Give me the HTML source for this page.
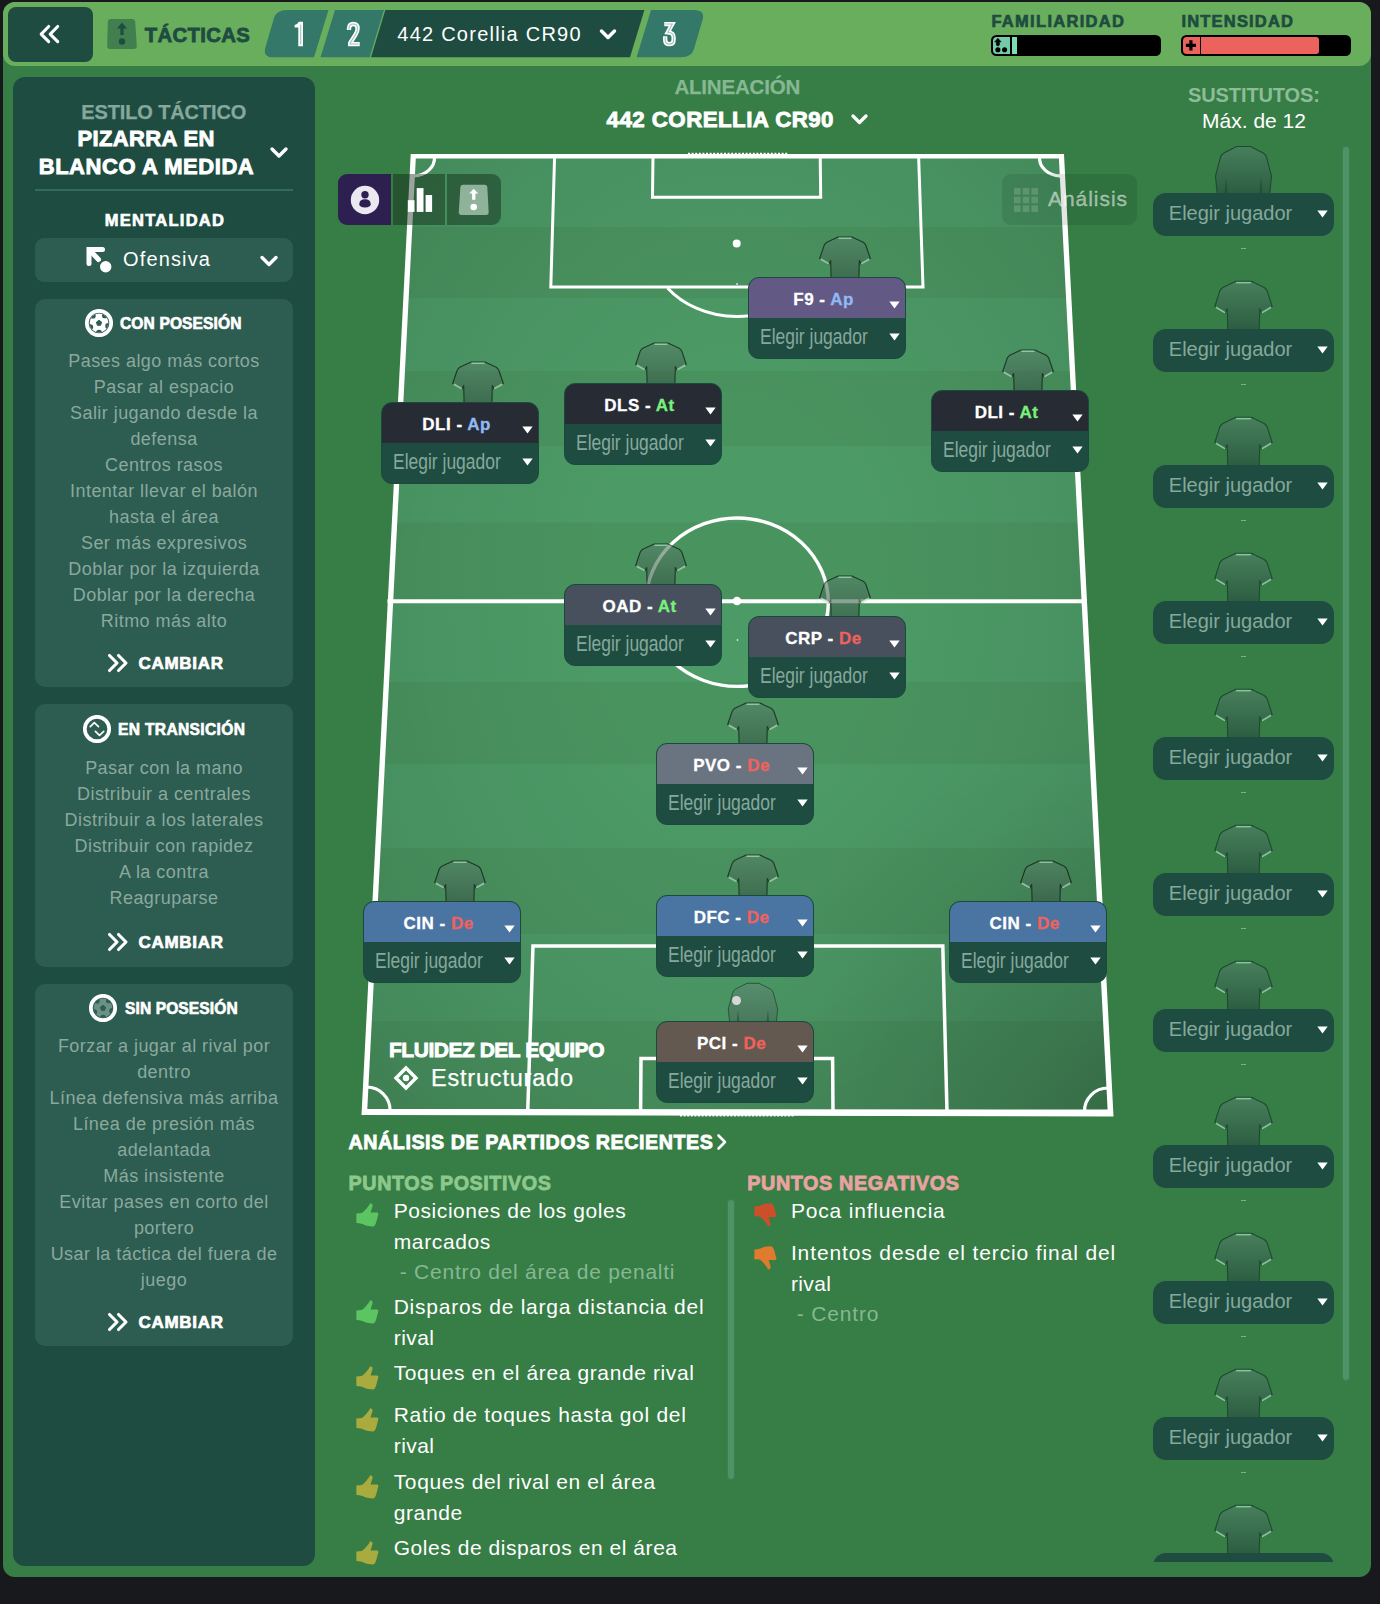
<!DOCTYPE html>
<html lang="es"><head><meta charset="utf-8"><title>Tácticas</title>
<style>
*{box-sizing:border-box;margin:0;padding:0}
html,body{width:1380px;height:1604px;background:#18191d;overflow:hidden;font-family:"Liberation Sans",sans-serif;}
.abs{position:absolute}
.t{position:absolute;white-space:nowrap;line-height:1}
.hv{-webkit-text-stroke:.04em currentColor}
#wrap{position:absolute;left:3px;top:2px;width:1368px;height:1575px;background:#377d46;border-radius:12px;overflow:hidden}
#hdr{position:absolute;left:3px;top:2px;width:1368px;height:64px;background:#69ae5d;border-radius:12px}
#back{position:absolute;left:8px;top:7px;width:85px;height:54.5px;background:#1e4c40;border-radius:8px}
#lp{position:absolute;left:13px;top:77px;width:302px;height:1489px;background:#1e4c40;border-radius:12px}
.card{position:absolute;left:35px;width:258px;background:#2d5c50;border-radius:10px}
.ln{position:absolute;left:25px;width:278px;text-align:center;font-size:18px;line-height:26px;color:#8aa99e;letter-spacing:.45px}
.pos{position:absolute;width:158px;height:82px;border-radius:11px;background:#1e4c40;border:1px solid #1b493d;overflow:hidden}
.pos .h{position:absolute;left:0;top:0;width:100%;height:40px}
.sub{position:absolute;width:181px;height:43px;border-radius:13px;background:#1e4c40}
.dg{position:absolute;white-space:nowrap;line-height:1;font-size:34px;font-weight:700;color:#fff;transform:scaleX(.68);transform-origin:0 0}
</style></head><body>
<div id="wrap"></div>
<div id="hdr"></div>
<div id="back"></div>

<svg class="abs" style="left:0;top:0" width="100" height="70" viewBox="0 0 100 70">
<g fill="none" stroke="#fff" stroke-width="3.1" stroke-linecap="round" stroke-linejoin="round">
<path d="M48.7 26.5 L41.2 34.1 L48.7 41.7"/><path d="M57.7 26.5 L50.2 34.1 L57.7 41.7"/>
</g>
</svg>
<svg class="abs" style="left:106px;top:18px" width="32" height="32" viewBox="0 0 32 32">
<path d="M4.5 1 H26.5 Q29 1 29.2 3.5 L30.8 28 Q31 31 28 31 H4 Q1 31 1.2 28 L1.8 3.5 Q2 1 4.5 1Z" fill="#427f4f"/>
<path d="M16 4.5 L21 10.5 H17.6 V17 H14.4 V10.5 H11Z" fill="#1e4c40"/><circle cx="16" cy="23.5" r="3.2" fill="#1e4c40"/>
</svg>
<div class="t hv" style="left:144.8px;top:25.3px;font-size:20.3px;font-weight:700;letter-spacing:0.34px;color:#1e4c40;">TÁCTICAS</div>
<svg class="abs" style="left:0;top:0" width="1380" height="70" viewBox="0 0 1380 70">
<path d="M287 10 H328.5 L314 57.3 H273 Q262.5 57.3 265.5 47 L274 18 Q276.5 10 287 10Z" fill="#34786a"/>
<path d="M335 10 H384 L369.6 57.3 H320.5Z" fill="#34786a"/>
<path d="M385.3 10 H644.4 L630 57.3 H371Z" fill="#1e4c40"/>
<path d="M651 10 H694 Q705.5 10 702.5 20 L694 49 Q691.5 57.3 681 57.3 H636.6Z" fill="#34786a"/>
<path d="M601.5 31 L608 37.5 L614.5 31" fill="none" stroke="#fff" stroke-width="3.5" stroke-linecap="round" stroke-linejoin="round"/>
</svg>
<svg class="abs" style="left:0;top:0" width="720" height="70" viewBox="0 0 720 70">
<path d="M303 21.8 V46.2 H298.3 V27.4 H294.6 V25.1 Q297.6 24.3 298.8 21.8Z" fill="#fff"/>
<g fill="none" stroke="#fff" stroke-width="4.3" stroke-linejoin="miter">
<path d="M349 30 V28.5 Q349 24 353.3 24 Q357.6 24 357.6 28.6 Q357.6 31.5 355.3 35 L350.2 43 V44.05 H359.7"/>
<path d="M664.3 24.05 H672.3 L667.8 32.3 Q673.6 32.6 673.6 37.2 V40 Q673.6 44.15 669.4 44.15 Q665.2 44.15 665.2 40 V36.3"/>
</g>
<g fill="none" stroke="#34786a" stroke-opacity=".45" stroke-width="1.1" stroke-linejoin="miter">
<path d="M300.7 24.5 V44.5"/>
<path d="M349 30 V28.5 Q349 24 353.3 24 Q357.6 24 357.6 28.6 Q357.6 31.5 355.3 35 L350.2 43 V44.05 H358.5"/>
<path d="M665.5 24.05 H672.3 L667.8 32.3 Q673.6 32.6 673.6 37.2 V40 Q673.6 44.15 669.4 44.15 Q665.2 44.15 665.2 40 V37.3"/>
</g></svg>
<div class="t" style="left:397.3px;top:24.3px;font-size:20px;font-weight:400;letter-spacing:1.24px;color:#fff;">442 Corellia CR90</div>
<div class="t hv" style="left:991.4px;top:12.9px;font-size:16.5px;font-weight:700;letter-spacing:1.3px;color:#1e4c40;">FAMILIARIDAD</div>
<div class="t hv" style="left:1181.5px;top:12.9px;font-size:16.5px;font-weight:700;letter-spacing:1.18px;color:#1e4c40;">INTENSIDAD</div>
<div class="abs" style="left:991px;top:35px;width:170px;height:21px;background:#000;border-radius:5.5px"></div>
<div class="abs" style="left:992.8px;top:36.7px;width:17.1px;height:17.6px;background:#74cba7;border-radius:3.8px 0 0 3.8px"></div>
<div class="abs" style="left:1012px;top:36.7px;width:5.1px;height:17.6px;background:#7ddcb0"></div>
<div class="abs" style="left:1181px;top:35px;width:170px;height:21px;background:#000;border-radius:5.5px"></div>
<div class="abs" style="left:1182.8px;top:36.7px;width:17.1px;height:17.6px;background:#ec635d;border-radius:3.8px 0 0 3.8px"></div>
<div class="abs" style="left:1200.9px;top:36.7px;width:118.3px;height:17.6px;background:#ec635d;border-radius:0 3px 3px 0"></div>
<svg class="abs" style="left:991px;top:35px" width="220" height="21" viewBox="0 0 220 21">
<path d="M6.9 3.2 L10.1 6.9 H8.4 V9.8 Q8.4 10.8 6.9 10.8 Q5.4 10.8 5.4 9.8 V6.9 H3.7Z" fill="#000" stroke="#000" stroke-width=".6" stroke-linejoin="round"/><circle cx="6.9" cy="14.7" r="2.55" fill="#000"/><circle cx="13.6" cy="14.7" r="2.55" fill="#000"/>
<path d="M194.9 10.4 H205 M199.9 5.2 V15.6" stroke="#000" stroke-width="3.2" fill="none"/>
</svg>
<div id="lp"></div>
<div class="t" style="left:81.3px;top:102.1px;font-size:20px;font-weight:700;letter-spacing:-0.13px;color:#86a89c;-webkit-text-stroke:.25px currentColor;">ESTILO TÁCTICO</div>
<div class="t hv" style="left:77.6px;top:128.1px;font-size:22px;font-weight:700;letter-spacing:0.34px;color:#fff;">PIZARRA EN</div>
<div class="t hv" style="left:38.7px;top:155.9px;font-size:22px;font-weight:700;letter-spacing:0.55px;color:#fff;">BLANCO A MEDIDA</div>
<div class="abs" style="left:35px;top:189px;width:258px;height:2px;background:#356b5b"></div>
<div class="t hv" style="left:104.7px;top:212.4px;font-size:16.5px;font-weight:700;letter-spacing:1.27px;color:#fff;">MENTALIDAD</div>
<div class="abs" style="left:35px;top:238px;width:258px;height:44px;background:#2d5c50;border-radius:9px"></div>
<div class="t" style="left:123px;top:248.8px;font-size:20px;font-weight:400;letter-spacing:1.15px;color:#fff;">Ofensiva</div>
<svg class="abs" style="left:0;top:0" width="330" height="300" viewBox="0 0 330 300">
<g fill="none" stroke="#fff" stroke-width="3.4" stroke-linecap="round" stroke-linejoin="round">
<path d="M272 149 L279 156 L286 149"/><path d="M262 257.5 L269 264.5 L276 257.5"/></g>
<g fill="none" stroke="#fff" stroke-width="5" stroke-linecap="round" stroke-linejoin="miter"><path d="M102.5 249.5 H89 V263.5"/><path d="M90 250.5 L98.5 259.5"/></g>
<circle cx="105.7" cy="266.8" r="5.7" fill="#fff"/>
</svg>
<div class="card" style="top:299px;height:388px"></div>
<svg class="abs" style="left:85px;top:309px" width="28" height="28" viewBox="0 0 28 28">
<defs><clipPath id="bcffffff"><circle cx="14" cy="14" r="9.4"/></clipPath></defs>
<circle cx="14" cy="14" r="12.2" fill="none" stroke="#fff" stroke-width="3.7"/>
<circle cx="14" cy="14" r="9.4" fill="#ffffff"/>
<g clip-path="url(#bcffffff)"><circle cx="7.83" cy="6.65" r="2.9" fill="#2d5c50"/><circle cx="19.91" cy="6.44" r="2.9" fill="#2d5c50"/><circle cx="23.13" cy="16.97" r="2.9" fill="#2d5c50"/><circle cx="14" cy="23.6" r="2.9" fill="#2d5c50"/><circle cx="5.3" cy="18.06" r="2.9" fill="#2d5c50"/></g>
<path d="M14 11.3 L16.6 13.2 L15.6 16.3 H12.4 L11.4 13.2Z" fill="#2d5c50" stroke="#2d5c50" stroke-width="1" stroke-linejoin="round"/>
</svg>
<div class="t hv" style="left:120px;top:316.2px;font-size:15.6px;font-weight:700;letter-spacing:0.1px;color:#fff;">CON POSESIÓN</div>
<div class="ln" style="top:347.8px">Pases algo más cortos<br>Pasar al espacio<br>Salir jugando desde la<br>defensa<br>Centros rasos<br>Intentar llevar el balón<br>hasta el área<br>Ser más expresivos<br>Doblar por la izquierda<br>Doblar por la derecha<br>Ritmo más alto</div>
<svg class="abs" style="left:106px;top:652.5px" width="24" height="20" viewBox="0 0 24 20"><g fill="none" stroke="#fff" stroke-width="3.1" stroke-linecap="round" stroke-linejoin="round"><path d="M3.5 2.5 L11 10 L3.5 17.5"/><path d="M12.5 2.5 L20 10 L12.5 17.5"/></g></svg>
<div class="t hv" style="left:138.5px;top:655.1px;font-size:17px;font-weight:700;letter-spacing:0.71px;color:#fff;">CAMBIAR</div>
<div class="card" style="top:704px;height:262.5px"></div>
<svg class="abs" style="left:83px;top:715px" width="28" height="28" viewBox="0 0 28 28">
<circle cx="14" cy="14" r="12.2" fill="none" stroke="#fff" stroke-width="3.7"/>
<g fill="none" stroke="#fff" stroke-width="1.7" stroke-linecap="round" stroke-linejoin="round"><path d="M7.3 11.6 L11.3 7.6 L15.5 11.6"/><path d="M12.4 16.3 L16.5 20.4 L20.7 16.3"/></g>
</svg>
<div class="t hv" style="left:118px;top:722.2px;font-size:15.6px;font-weight:700;letter-spacing:0.33px;color:#fff;">EN TRANSICIÓN</div>
<div class="ln" style="top:754.8px">Pasar con la mano<br>Distribuir a centrales<br>Distribuir a los laterales<br>Distribuir con rapidez<br>A la contra<br>Reagruparse</div>
<svg class="abs" style="left:106px;top:931.5px" width="24" height="20" viewBox="0 0 24 20"><g fill="none" stroke="#fff" stroke-width="3.1" stroke-linecap="round" stroke-linejoin="round"><path d="M3.5 2.5 L11 10 L3.5 17.5"/><path d="M12.5 2.5 L20 10 L12.5 17.5"/></g></svg>
<div class="t hv" style="left:138.5px;top:934.1px;font-size:17px;font-weight:700;letter-spacing:0.71px;color:#fff;">CAMBIAR</div>
<div class="card" style="top:984px;height:362px"></div>
<svg class="abs" style="left:89px;top:994px" width="28" height="28" viewBox="0 0 28 28">
<defs><clipPath id="bc6b9184"><circle cx="14" cy="14" r="9.4"/></clipPath></defs>
<circle cx="14" cy="14" r="12.2" fill="none" stroke="#fff" stroke-width="3.7"/>
<circle cx="14" cy="14" r="9.4" fill="#6b9184"/>
<g clip-path="url(#bc6b9184)"><circle cx="7.83" cy="6.65" r="2.9" fill="#2d5c50"/><circle cx="19.91" cy="6.44" r="2.9" fill="#2d5c50"/><circle cx="23.13" cy="16.97" r="2.9" fill="#2d5c50"/><circle cx="14" cy="23.6" r="2.9" fill="#2d5c50"/><circle cx="5.3" cy="18.06" r="2.9" fill="#2d5c50"/></g>
<path d="M14 11.3 L16.6 13.2 L15.6 16.3 H12.4 L11.4 13.2Z" fill="#2d5c50" stroke="#2d5c50" stroke-width="1" stroke-linejoin="round"/>
</svg>
<div class="t hv" style="left:125px;top:1001.2px;font-size:15.6px;font-weight:700;letter-spacing:0.08px;color:#fff;">SIN POSESIÓN</div>
<div class="ln" style="top:1032.8px">Forzar a jugar al rival por<br>dentro<br>Línea defensiva más arriba<br>Línea de presión más<br>adelantada<br>Más insistente<br>Evitar pases en corto del<br>portero<br>Usar la táctica del fuera de<br>juego</div>
<svg class="abs" style="left:106px;top:1311.5px" width="24" height="20" viewBox="0 0 24 20"><g fill="none" stroke="#fff" stroke-width="3.1" stroke-linecap="round" stroke-linejoin="round"><path d="M3.5 2.5 L11 10 L3.5 17.5"/><path d="M12.5 2.5 L20 10 L12.5 17.5"/></g></svg>
<div class="t hv" style="left:138.5px;top:1314.1px;font-size:17px;font-weight:700;letter-spacing:0.71px;color:#fff;">CAMBIAR</div>
<div class="t" style="left:674.4px;top:76.9px;font-size:20.5px;font-weight:700;letter-spacing:-0.18px;color:#86b893;-webkit-text-stroke:.25px currentColor;">ALINEACIÓN</div>
<div class="t hv" style="left:606.6px;top:108.5px;font-size:22.3px;font-weight:700;letter-spacing:0.45px;color:#fff;">442 CORELLIA CR90</div>
<svg class="abs" style="left:848px;top:108.7px" width="24" height="20" viewBox="0 0 24 20"><path d="M5 7 L11.5 13.5 L18 7" fill="none" stroke="#fff" stroke-width="3.3" stroke-linecap="round" stroke-linejoin="round"/></svg>
<svg class="abs" style="left:0;top:0" width="1380" height="1604" viewBox="0 0 1380 1604">
<defs><clipPath id="pc"><polygon points="411.7,155 1063,155 1112.5,1115.5 362.5,1114"/></clipPath>
<radialGradient id="vg" gradientUnits="userSpaceOnUse" cx="0" cy="0" r="1" gradientTransform="translate(737 600) scale(560 760)"><stop offset="0" stop-color="#000" stop-opacity="0"/><stop offset="0.25" stop-color="#000" stop-opacity="0"/><stop offset="0.55" stop-color="#000" stop-opacity="0.04"/><stop offset="0.85" stop-color="#000" stop-opacity="0.105"/><stop offset="1" stop-color="#000" stop-opacity="0.16"/></radialGradient><radialGradient id="vg2" gradientUnits="userSpaceOnUse" cx="1113" cy="1116" r="380"><stop offset="0" stop-color="#000" stop-opacity="0.15"/><stop offset="1" stop-color="#000" stop-opacity="0"/></radialGradient></defs>
<g clip-path="url(#pc)"><rect x="350" y="154" width="780" height="73.5" fill="#4c9a66"/><rect x="350" y="227" width="780" height="71.5" fill="#49935f"/><rect x="350" y="298" width="780" height="73.5" fill="#4c9a66"/><rect x="350" y="371" width="780" height="75.5" fill="#49935f"/><rect x="350" y="446" width="780" height="77.10000000000002" fill="#4c9a66"/><rect x="350" y="522.6" width="780" height="78.39999999999998" fill="#49935f"/><rect x="350" y="600.5" width="780" height="82" fill="#4c9a66"/><rect x="350" y="682" width="780" height="82.5" fill="#49935f"/><rect x="350" y="764" width="780" height="84.5" fill="#4c9a66"/><rect x="350" y="848" width="780" height="86.5" fill="#49935f"/><rect x="350" y="934" width="780" height="87.5" fill="#4c9a66"/><rect x="350" y="1021" width="780" height="96.5" fill="#49935f"/><rect x="350" y="150" width="780" height="980" fill="url(#vg)"/><rect x="350" y="150" width="780" height="980" fill="url(#vg2)"/></g>
<g fill="none" stroke="#fff">
<path d="M410.7 154 L1064 154 L1113.5 1116.4 L361.5 1115Z M415.8 158.5 L367.3 1109 L1107.6 1109.6 L1058.9 158.5Z" fill="#fff" fill-rule="evenodd" stroke="none"/>
<line x1="387.5" y1="601.3" x2="1087" y2="601.3" stroke-width="4"/>
<ellipse cx="737.2" cy="602.2" rx="91.1" ry="84.2" stroke-width="3.4"/>
<polyline points="554.6,156 550.8,287 923,287 918.6,156" stroke-width="3"/>
<polyline points="653,156 652.5,197.3 820.7,197.3 820.2,156" stroke-width="3"/>
<path d="M667.5 288 A88 74 0 0 0 806.5 288" stroke-width="3"/>
<polyline points="527.7,1112 533,946 942.8,946 947,1112" stroke-width="3.5"/>
<polyline points="640.6,1112 641,1058.4 832.6,1058.4 833,1112" stroke-width="3.5"/>
<path d="M366.3 1087 A23.5 23 0 0 1 390 1111" stroke-width="3.2"/>
<path d="M1084.5 1112 A23.5 23 0 0 1 1108.8 1088" stroke-width="3.2"/>
<path d="M434.5 157 A20.5 18 0 0 1 413.5 175.8" stroke-width="3.2"/>
<path d="M1039.5 157 A20.5 18 0 0 0 1060.5 175.8" stroke-width="3.2"/>
<line x1="688" y1="153.6" x2="788" y2="153.6" stroke-width="1.6" stroke-dasharray="2 1.6"/>
<line x1="680" y1="1115.6" x2="795" y2="1115.6" stroke-width="1.6" stroke-dasharray="2 1.6"/>
</g>
<circle cx="736.7" cy="243.4" r="4" fill="#fff"/><circle cx="737" cy="601" r="4.3" fill="#fff"/>
<circle cx="737" cy="284" r="0.9" fill="#d8eadd"/><circle cx="737.5" cy="640" r="0.9" fill="#d8eadd"/>
</svg>
<div class="abs" style="left:338px;top:174px;width:53px;height:51px;background:#2d1f4f;border-radius:9px 0 0 9px"></div>
<div class="abs" style="left:393px;top:174px;width:52px;height:51px;background:rgba(8,25,12,.4)"></div>
<div class="abs" style="left:447px;top:174px;width:54px;height:51px;background:rgba(8,25,12,.4);border-radius:0 9px 9px 0"></div>
<svg class="abs" style="left:338px;top:174px" width="164" height="51" viewBox="0 0 164 51">
<circle cx="27" cy="26" r="14.2" fill="#ece8f2"/><circle cx="27" cy="20.7" r="3.7" fill="#2d1f4f"/>
<path d="M21.3 30.2 Q21.3 25.2 27 25.2 Q32.7 25.2 32.7 30.2 Q32.7 33.2 27 33.6 Q21.3 33.2 21.3 30.2Z" fill="#2d1f4f"/>
<rect x="69.8" y="26.2" width="6.7" height="11.7" fill="#fff"/><rect x="78.7" y="14.1" width="6.8" height="23.8" fill="#fff"/><rect x="87.6" y="21" width="6.5" height="16.9" fill="#fff"/>
<path d="M125 10.8 H146.7 Q149.1 10.8 149.3 13 L150.7 38 Q150.9 41 148 41 H123.7 Q120.6 41 120.8 38 L122.4 13 Q122.6 10.8 125 10.8Z" fill="#8fb39a"/>
<path d="M135.7 14.7 L140.2 19.6 H137.4 V25.7 H134.1 V19.6 H131.3Z" fill="#fff"/><circle cx="135.7" cy="33" r="3.3" fill="#fff"/>
</svg>
<div class="abs" style="left:1002px;top:174px;width:135px;height:51px;background:rgba(0,30,10,.11);border-radius:9px"></div>
<svg class="abs" style="left:1013px;top:187px" width="26" height="26" viewBox="0 0 26 26"><g fill="rgba(255,255,255,.160)">
<rect x="1" y="1" width="6.6" height="6.6"/><rect x="9.7" y="1" width="6.6" height="6.6"/><rect x="18.4" y="1" width="6.6" height="6.6"/>
<rect x="1" y="9.7" width="6.6" height="6.6"/><rect x="9.7" y="9.7" width="6.6" height="6.6"/><rect x="18.4" y="9.7" width="6.6" height="6.6"/>
<rect x="1" y="18.4" width="6.6" height="6.6"/><rect x="9.7" y="18.4" width="6.6" height="6.6"/><rect x="18.4" y="18.4" width="6.6" height="6.6"/></g></svg>
<div class="t" style="left:1048px;top:188.2px;font-size:21px;font-weight:400;letter-spacing:0.95px;color:rgba(255,255,255,.52);-webkit-text-stroke:.3px rgba(255,255,255,.52);">Análisis</div>
<svg width="0" height="0" style="position:absolute"><defs>
<linearGradient id="sg" x1="0" y1="0" x2="0" y2="1"><stop offset="0" stop-color="#477f5b"/><stop offset="1" stop-color="#2c5c41"/></linearGradient>
<linearGradient id="sq" x1="0" y1="0" x2="0" y2="1"><stop offset="0" stop-color="#5e8a75"/><stop offset="1" stop-color="#476755"/></linearGradient>
<linearGradient id="sp" x1="0" y1="0" x2="0" y2="1"><stop offset="0" stop-color="#578369"/><stop offset="1" stop-color="#385847"/></linearGradient>
</defs></svg>
<svg class="abs" style="left:819px;top:236.3px;opacity:.620" width="52" height="43.8" viewBox="0 0 60 50" preserveAspectRatio="none"><path d="M22 1.2 H38 L51 7.2 Q53 8.5 54 10.5 L59.2 25.7 L48.5 32 L46.5 28 L46 50 H14 L13.5 28 L11.5 32 L0.8 25.7 L6 10.5 Q7 8.5 9 7.2Z" fill="url(#sp)" stroke="#000803" stroke-width="1.3" stroke-linejoin="round"/>
<path d="M22.5 2.6 H37.5" stroke="#bde6c9" stroke-width="1.7"/>
<path d="M1.9 26.4 L11.3 31.8" stroke="#bde6c9" stroke-width="2"/><path d="M58.1 26.4 L48.7 31.8" stroke="#bde6c9" stroke-width="2"/></svg>
<div class="pos" style="left:748px;top:277px"><div class="h" style="background:#635985"></div></div>
<div class="t" style="left:793.3px;top:290.6px;font-size:17px;font-weight:700;letter-spacing:0.5px;color:#fff;-webkit-text-stroke:.3px currentColor;">F9 - <span style="color:#8fbaf5">Ap</span></div>
<svg class="abs" style="left:888.5px;top:301px" width="11" height="8" viewBox="0 0 11 8"><path d="M0.3 0.5 H10.7 L5.5 7.5Z" fill="#fff"/></svg>
<div class="t" style="left:760px;top:326.6px;font-size:21.3px;color:#86a89c;transform:scaleX(.820);transform-origin:0 0">Elegir jugador</div>
<svg class="abs" style="left:888.5px;top:333px" width="11" height="8" viewBox="0 0 11 8"><path d="M0.3 0.5 H10.7 L5.5 7.5Z" fill="#fff"/></svg>
<svg class="abs" style="left:452px;top:361.3px;opacity:.620" width="52" height="43.8" viewBox="0 0 60 50" preserveAspectRatio="none"><path d="M22 1.2 H38 L51 7.2 Q53 8.5 54 10.5 L59.2 25.7 L48.5 32 L46.5 28 L46 50 H14 L13.5 28 L11.5 32 L0.8 25.7 L6 10.5 Q7 8.5 9 7.2Z" fill="url(#sp)" stroke="#000803" stroke-width="1.3" stroke-linejoin="round"/>
<path d="M22.5 2.6 H37.5" stroke="#bde6c9" stroke-width="1.7"/>
<path d="M1.9 26.4 L11.3 31.8" stroke="#bde6c9" stroke-width="2"/><path d="M58.1 26.4 L48.7 31.8" stroke="#bde6c9" stroke-width="2"/></svg>
<div class="pos" style="left:381px;top:402px"><div class="h" style="background:#272b33"></div></div>
<div class="t" style="left:422.3px;top:415.6px;font-size:17px;font-weight:700;letter-spacing:0.5px;color:#fff;-webkit-text-stroke:.3px currentColor;">DLI - <span style="color:#8fbaf5">Ap</span></div>
<svg class="abs" style="left:521.5px;top:426px" width="11" height="8" viewBox="0 0 11 8"><path d="M0.3 0.5 H10.7 L5.5 7.5Z" fill="#fff"/></svg>
<div class="t" style="left:393px;top:451.6px;font-size:21.3px;color:#86a89c;transform:scaleX(.820);transform-origin:0 0">Elegir jugador</div>
<svg class="abs" style="left:521.5px;top:458px" width="11" height="8" viewBox="0 0 11 8"><path d="M0.3 0.5 H10.7 L5.5 7.5Z" fill="#fff"/></svg>
<svg class="abs" style="left:635px;top:342.3px;opacity:.620" width="52" height="43.8" viewBox="0 0 60 50" preserveAspectRatio="none"><path d="M22 1.2 H38 L51 7.2 Q53 8.5 54 10.5 L59.2 25.7 L48.5 32 L46.5 28 L46 50 H14 L13.5 28 L11.5 32 L0.8 25.7 L6 10.5 Q7 8.5 9 7.2Z" fill="url(#sp)" stroke="#000803" stroke-width="1.3" stroke-linejoin="round"/>
<path d="M22.5 2.6 H37.5" stroke="#bde6c9" stroke-width="1.7"/>
<path d="M1.9 26.4 L11.3 31.8" stroke="#bde6c9" stroke-width="2"/><path d="M58.1 26.4 L48.7 31.8" stroke="#bde6c9" stroke-width="2"/></svg>
<div class="pos" style="left:564px;top:383px"><div class="h" style="background:#272b33"></div></div>
<div class="t" style="left:604.3px;top:396.6px;font-size:17px;font-weight:700;letter-spacing:0.5px;color:#fff;-webkit-text-stroke:.3px currentColor;">DLS - <span style="color:#78f07a">At</span></div>
<svg class="abs" style="left:704.5px;top:407px" width="11" height="8" viewBox="0 0 11 8"><path d="M0.3 0.5 H10.7 L5.5 7.5Z" fill="#fff"/></svg>
<div class="t" style="left:576px;top:432.6px;font-size:21.3px;color:#86a89c;transform:scaleX(.820);transform-origin:0 0">Elegir jugador</div>
<svg class="abs" style="left:704.5px;top:439px" width="11" height="8" viewBox="0 0 11 8"><path d="M0.3 0.5 H10.7 L5.5 7.5Z" fill="#fff"/></svg>
<svg class="abs" style="left:1002px;top:349.3px;opacity:.620" width="52" height="43.8" viewBox="0 0 60 50" preserveAspectRatio="none"><path d="M22 1.2 H38 L51 7.2 Q53 8.5 54 10.5 L59.2 25.7 L48.5 32 L46.5 28 L46 50 H14 L13.5 28 L11.5 32 L0.8 25.7 L6 10.5 Q7 8.5 9 7.2Z" fill="url(#sp)" stroke="#000803" stroke-width="1.3" stroke-linejoin="round"/>
<path d="M22.5 2.6 H37.5" stroke="#bde6c9" stroke-width="1.7"/>
<path d="M1.9 26.4 L11.3 31.8" stroke="#bde6c9" stroke-width="2"/><path d="M58.1 26.4 L48.7 31.8" stroke="#bde6c9" stroke-width="2"/></svg>
<div class="pos" style="left:931px;top:390px"><div class="h" style="background:#272b33"></div></div>
<div class="t" style="left:974.7px;top:403.6px;font-size:17px;font-weight:700;letter-spacing:0.5px;color:#fff;-webkit-text-stroke:.3px currentColor;">DLI - <span style="color:#78f07a">At</span></div>
<svg class="abs" style="left:1071.5px;top:414px" width="11" height="8" viewBox="0 0 11 8"><path d="M0.3 0.5 H10.7 L5.5 7.5Z" fill="#fff"/></svg>
<div class="t" style="left:943px;top:439.6px;font-size:21.3px;color:#86a89c;transform:scaleX(.820);transform-origin:0 0">Elegir jugador</div>
<svg class="abs" style="left:1071.5px;top:446px" width="11" height="8" viewBox="0 0 11 8"><path d="M0.3 0.5 H10.7 L5.5 7.5Z" fill="#fff"/></svg>
<svg class="abs" style="left:635px;top:543.3px;opacity:.620" width="52" height="43.8" viewBox="0 0 60 50" preserveAspectRatio="none"><path d="M22 1.2 H38 L51 7.2 Q53 8.5 54 10.5 L59.2 25.7 L48.5 32 L46.5 28 L46 50 H14 L13.5 28 L11.5 32 L0.8 25.7 L6 10.5 Q7 8.5 9 7.2Z" fill="url(#sp)" stroke="#000803" stroke-width="1.3" stroke-linejoin="round"/>
<path d="M22.5 2.6 H37.5" stroke="#bde6c9" stroke-width="1.7"/>
<path d="M1.9 26.4 L11.3 31.8" stroke="#bde6c9" stroke-width="2"/><path d="M58.1 26.4 L48.7 31.8" stroke="#bde6c9" stroke-width="2"/></svg>
<div class="pos" style="left:564px;top:584px"><div class="h" style="background:#47505c"></div></div>
<div class="t" style="left:602.5px;top:597.6px;font-size:17px;font-weight:700;letter-spacing:0.5px;color:#fff;-webkit-text-stroke:.3px currentColor;">OAD - <span style="color:#78f07a">At</span></div>
<svg class="abs" style="left:704.5px;top:608px" width="11" height="8" viewBox="0 0 11 8"><path d="M0.3 0.5 H10.7 L5.5 7.5Z" fill="#fff"/></svg>
<div class="t" style="left:576px;top:633.6px;font-size:21.3px;color:#86a89c;transform:scaleX(.820);transform-origin:0 0">Elegir jugador</div>
<svg class="abs" style="left:704.5px;top:640px" width="11" height="8" viewBox="0 0 11 8"><path d="M0.3 0.5 H10.7 L5.5 7.5Z" fill="#fff"/></svg>
<svg class="abs" style="left:819px;top:575.3px;opacity:.620" width="52" height="43.8" viewBox="0 0 60 50" preserveAspectRatio="none"><path d="M22 1.2 H38 L51 7.2 Q53 8.5 54 10.5 L59.2 25.7 L48.5 32 L46.5 28 L46 50 H14 L13.5 28 L11.5 32 L0.8 25.7 L6 10.5 Q7 8.5 9 7.2Z" fill="url(#sp)" stroke="#000803" stroke-width="1.3" stroke-linejoin="round"/>
<path d="M22.5 2.6 H37.5" stroke="#bde6c9" stroke-width="1.7"/>
<path d="M1.9 26.4 L11.3 31.8" stroke="#bde6c9" stroke-width="2"/><path d="M58.1 26.4 L48.7 31.8" stroke="#bde6c9" stroke-width="2"/></svg>
<div class="pos" style="left:748px;top:616px"><div class="h" style="background:#47505c"></div></div>
<div class="t" style="left:785.3px;top:629.6px;font-size:17px;font-weight:700;letter-spacing:0.5px;color:#fff;-webkit-text-stroke:.3px currentColor;">CRP - <span style="color:#f0625c">De</span></div>
<svg class="abs" style="left:888.5px;top:640px" width="11" height="8" viewBox="0 0 11 8"><path d="M0.3 0.5 H10.7 L5.5 7.5Z" fill="#fff"/></svg>
<div class="t" style="left:760px;top:665.6px;font-size:21.3px;color:#86a89c;transform:scaleX(.820);transform-origin:0 0">Elegir jugador</div>
<svg class="abs" style="left:888.5px;top:672px" width="11" height="8" viewBox="0 0 11 8"><path d="M0.3 0.5 H10.7 L5.5 7.5Z" fill="#fff"/></svg>
<svg class="abs" style="left:727px;top:702.3px;opacity:.620" width="52" height="43.8" viewBox="0 0 60 50" preserveAspectRatio="none"><path d="M22 1.2 H38 L51 7.2 Q53 8.5 54 10.5 L59.2 25.7 L48.5 32 L46.5 28 L46 50 H14 L13.5 28 L11.5 32 L0.8 25.7 L6 10.5 Q7 8.5 9 7.2Z" fill="url(#sp)" stroke="#000803" stroke-width="1.3" stroke-linejoin="round"/>
<path d="M22.5 2.6 H37.5" stroke="#bde6c9" stroke-width="1.7"/>
<path d="M1.9 26.4 L11.3 31.8" stroke="#bde6c9" stroke-width="2"/><path d="M58.1 26.4 L48.7 31.8" stroke="#bde6c9" stroke-width="2"/></svg>
<div class="pos" style="left:656px;top:743px"><div class="h" style="background:#6a7480"></div></div>
<div class="t" style="left:693.2px;top:756.6px;font-size:17px;font-weight:700;letter-spacing:0.5px;color:#fff;-webkit-text-stroke:.3px currentColor;">PVO - <span style="color:#f0625c">De</span></div>
<svg class="abs" style="left:796.5px;top:767px" width="11" height="8" viewBox="0 0 11 8"><path d="M0.3 0.5 H10.7 L5.5 7.5Z" fill="#fff"/></svg>
<div class="t" style="left:668px;top:792.6px;font-size:21.3px;color:#86a89c;transform:scaleX(.820);transform-origin:0 0">Elegir jugador</div>
<svg class="abs" style="left:796.5px;top:799px" width="11" height="8" viewBox="0 0 11 8"><path d="M0.3 0.5 H10.7 L5.5 7.5Z" fill="#fff"/></svg>
<svg class="abs" style="left:434px;top:860.3px;opacity:.620" width="52" height="43.8" viewBox="0 0 60 50" preserveAspectRatio="none"><path d="M22 1.2 H38 L51 7.2 Q53 8.5 54 10.5 L59.2 25.7 L48.5 32 L46.5 28 L46 50 H14 L13.5 28 L11.5 32 L0.8 25.7 L6 10.5 Q7 8.5 9 7.2Z" fill="url(#sp)" stroke="#000803" stroke-width="1.3" stroke-linejoin="round"/>
<path d="M22.5 2.6 H37.5" stroke="#bde6c9" stroke-width="1.7"/>
<path d="M1.9 26.4 L11.3 31.8" stroke="#bde6c9" stroke-width="2"/><path d="M58.1 26.4 L48.7 31.8" stroke="#bde6c9" stroke-width="2"/></svg>
<div class="pos" style="left:363px;top:901px"><div class="h" style="background:#4a74a1"></div></div>
<div class="t" style="left:403.5px;top:914.6px;font-size:17px;font-weight:700;letter-spacing:0.5px;color:#fff;-webkit-text-stroke:.3px currentColor;">CIN - <span style="color:#f0625c">De</span></div>
<svg class="abs" style="left:503.5px;top:925px" width="11" height="8" viewBox="0 0 11 8"><path d="M0.3 0.5 H10.7 L5.5 7.5Z" fill="#fff"/></svg>
<div class="t" style="left:375px;top:950.6px;font-size:21.3px;color:#86a89c;transform:scaleX(.820);transform-origin:0 0">Elegir jugador</div>
<svg class="abs" style="left:503.5px;top:957px" width="11" height="8" viewBox="0 0 11 8"><path d="M0.3 0.5 H10.7 L5.5 7.5Z" fill="#fff"/></svg>
<svg class="abs" style="left:727px;top:854.3px;opacity:.620" width="52" height="43.8" viewBox="0 0 60 50" preserveAspectRatio="none"><path d="M22 1.2 H38 L51 7.2 Q53 8.5 54 10.5 L59.2 25.7 L48.5 32 L46.5 28 L46 50 H14 L13.5 28 L11.5 32 L0.8 25.7 L6 10.5 Q7 8.5 9 7.2Z" fill="url(#sp)" stroke="#000803" stroke-width="1.3" stroke-linejoin="round"/>
<path d="M22.5 2.6 H37.5" stroke="#bde6c9" stroke-width="1.7"/>
<path d="M1.9 26.4 L11.3 31.8" stroke="#bde6c9" stroke-width="2"/><path d="M58.1 26.4 L48.7 31.8" stroke="#bde6c9" stroke-width="2"/></svg>
<div class="pos" style="left:656px;top:895px"><div class="h" style="background:#4a74a1"></div></div>
<div class="t" style="left:693.7px;top:908.6px;font-size:17px;font-weight:700;letter-spacing:0.5px;color:#fff;-webkit-text-stroke:.3px currentColor;">DFC - <span style="color:#f0625c">De</span></div>
<svg class="abs" style="left:796.5px;top:919px" width="11" height="8" viewBox="0 0 11 8"><path d="M0.3 0.5 H10.7 L5.5 7.5Z" fill="#fff"/></svg>
<div class="t" style="left:668px;top:944.6px;font-size:21.3px;color:#86a89c;transform:scaleX(.820);transform-origin:0 0">Elegir jugador</div>
<svg class="abs" style="left:796.5px;top:951px" width="11" height="8" viewBox="0 0 11 8"><path d="M0.3 0.5 H10.7 L5.5 7.5Z" fill="#fff"/></svg>
<svg class="abs" style="left:1020px;top:860.3px;opacity:.620" width="52" height="43.8" viewBox="0 0 60 50" preserveAspectRatio="none"><path d="M22 1.2 H38 L51 7.2 Q53 8.5 54 10.5 L59.2 25.7 L48.5 32 L46.5 28 L46 50 H14 L13.5 28 L11.5 32 L0.8 25.7 L6 10.5 Q7 8.5 9 7.2Z" fill="url(#sp)" stroke="#000803" stroke-width="1.3" stroke-linejoin="round"/>
<path d="M22.5 2.6 H37.5" stroke="#bde6c9" stroke-width="1.7"/>
<path d="M1.9 26.4 L11.3 31.8" stroke="#bde6c9" stroke-width="2"/><path d="M58.1 26.4 L48.7 31.8" stroke="#bde6c9" stroke-width="2"/></svg>
<div class="pos" style="left:949px;top:901px"><div class="h" style="background:#4a74a1"></div></div>
<div class="t" style="left:989.5px;top:914.6px;font-size:17px;font-weight:700;letter-spacing:0.5px;color:#fff;-webkit-text-stroke:.3px currentColor;">CIN - <span style="color:#f0625c">De</span></div>
<svg class="abs" style="left:1089.5px;top:925px" width="11" height="8" viewBox="0 0 11 8"><path d="M0.3 0.5 H10.7 L5.5 7.5Z" fill="#fff"/></svg>
<div class="t" style="left:961px;top:950.6px;font-size:21.3px;color:#86a89c;transform:scaleX(.820);transform-origin:0 0">Elegir jugador</div>
<svg class="abs" style="left:1089.5px;top:957px" width="11" height="8" viewBox="0 0 11 8"><path d="M0.3 0.5 H10.7 L5.5 7.5Z" fill="#fff"/></svg>
<svg class="abs" style="left:727px;top:981.8px;opacity:.620" width="52" height="43.8" viewBox="0 0 60 50" preserveAspectRatio="none"><path d="M23 1.5 H37 L50 8 Q52.5 9.5 53.5 12.5 L58.5 31 L56.5 50 H3.5 L1.5 31 L6.5 12.5 Q7.5 9.5 10 8Z" fill="url(#sq)" stroke="#10301c" stroke-width="1.1" stroke-linejoin="round"/>
<path d="M12.8 32 L10.8 50 H14.8Z" fill="#0f4a22"/><path d="M47.2 32 L49.2 50 H45.2Z" fill="#0f4a22"/></svg>
<div class="pos" style="left:656px;top:1021px"><div class="h" style="background:#635950"></div></div>
<div class="t" style="left:697px;top:1034.6px;font-size:17px;font-weight:700;letter-spacing:0.5px;color:#fff;-webkit-text-stroke:.3px currentColor;">PCI - <span style="color:#f0625c">De</span></div>
<svg class="abs" style="left:796.5px;top:1045px" width="11" height="8" viewBox="0 0 11 8"><path d="M0.3 0.5 H10.7 L5.5 7.5Z" fill="#fff"/></svg>
<div class="t" style="left:668px;top:1070.6px;font-size:21.3px;color:#86a89c;transform:scaleX(.820);transform-origin:0 0">Elegir jugador</div>
<svg class="abs" style="left:796.5px;top:1077px" width="11" height="8" viewBox="0 0 11 8"><path d="M0.3 0.5 H10.7 L5.5 7.5Z" fill="#fff"/></svg>
<div class="abs" style="left:732.2px;top:996.3px;width:8.8px;height:8.8px;border-radius:50%;background:#d6d8d6"></div>
<div class="t hv" style="left:389px;top:1039px;font-size:21px;font-weight:700;letter-spacing:-0.48px;color:#fff;">FLUIDEZ DEL EQUIPO</div>
<div class="t" style="left:431px;top:1066.7px;font-size:23.5px;font-weight:400;letter-spacing:0.8px;color:#fff;-webkit-text-stroke:.25px #fff;">Estructurado</div>
<svg class="abs" style="left:392px;top:1064px" width="28" height="28" viewBox="0 0 28 28"><path d="M14 4 L24 14 L14 24 L4 14Z" fill="none" stroke="#fff" stroke-width="3.4" stroke-linejoin="miter"/><circle cx="14" cy="14" r="3.2" fill="#fff"/></svg>
<div class="t" style="left:1188px;top:84.7px;font-size:20px;font-weight:700;letter-spacing:-0.1px;color:#8dbd98;">SUSTITUTOS:</div>
<div class="t" style="left:1202px;top:110.2px;font-size:21px;font-weight:400;letter-spacing:0.01px;color:#fff;">Máx. de 12</div>
<div class="abs" style="left:1341.8px;top:146px;width:8px;height:1234.5px;background:#4e9366;border:1px solid #3d8150;border-radius:4px"></div>
<div class="abs" style="left:1140px;top:140px;width:200px;height:1422px;overflow:hidden">
<svg class="abs" style="left:73.5px;top:5px" width="59" height="50.2" viewBox="0 0 60 50" preserveAspectRatio="none"><path d="M23 1.5 H37 L50 8 Q52.5 9.5 53.5 12.5 L58.5 31 L56.5 50 H3.5 L1.5 31 L6.5 12.5 Q7.5 9.5 10 8Z" fill="url(#sg)" stroke="#1d4a30" stroke-width="1.1" stroke-linejoin="round"/>
<path d="M12.3 32.5 L10.8 50 H13.8Z" fill="#1f5231"/><path d="M47.7 32.5 L49.2 50 H46.2Z" fill="#1f5231"/></svg>
<div class="sub" style="left:13px;top:53px"></div>
<div class="t" style="left:28.799999999999955px;top:62.6px;font-size:20px;color:#86a89c">Elegir jugador</div>
<svg class="abs" style="left:176.5px;top:70px" width="11" height="8" viewBox="0 0 11 8"><path d="M0.3 0.5 H10.7 L5.5 7.5Z" fill="#fff"/></svg>
<div class="abs" style="left:100.5px;top:108px;width:5.5px;height:1.3px;background:#7fb08c"></div>
<svg class="abs" style="left:73.5px;top:139.5px" width="59" height="51.5" viewBox="0 0 60 50" preserveAspectRatio="none"><path d="M22 1.2 H38 L51 7.2 Q53 8.5 54 10.5 L59.2 25.7 L48.5 32 L46.5 28 L46 50 H14 L13.5 28 L11.5 32 L0.8 25.7 L6 10.5 Q7 8.5 9 7.2Z" fill="url(#sg)" stroke="#1d4a30" stroke-width="1.1" stroke-linejoin="round"/>
<path d="M22.5 2.6 H37.5" stroke="#86c59b" stroke-width="1.5"/>
<path d="M1.9 26.4 L11.3 31.8" stroke="#86c59b" stroke-width="1.7"/><path d="M58.1 26.4 L48.7 31.8" stroke="#86c59b" stroke-width="1.7"/></svg>
<div class="sub" style="left:13px;top:189px"></div>
<div class="t" style="left:28.799999999999955px;top:198.6px;font-size:20px;color:#86a89c">Elegir jugador</div>
<svg class="abs" style="left:176.5px;top:206px" width="11" height="8" viewBox="0 0 11 8"><path d="M0.3 0.5 H10.7 L5.5 7.5Z" fill="#fff"/></svg>
<div class="abs" style="left:100.5px;top:244px;width:5.5px;height:1.3px;background:#7fb08c"></div>
<svg class="abs" style="left:73.5px;top:275.5px" width="59" height="51.5" viewBox="0 0 60 50" preserveAspectRatio="none"><path d="M22 1.2 H38 L51 7.2 Q53 8.5 54 10.5 L59.2 25.7 L48.5 32 L46.5 28 L46 50 H14 L13.5 28 L11.5 32 L0.8 25.7 L6 10.5 Q7 8.5 9 7.2Z" fill="url(#sg)" stroke="#1d4a30" stroke-width="1.1" stroke-linejoin="round"/>
<path d="M22.5 2.6 H37.5" stroke="#86c59b" stroke-width="1.5"/>
<path d="M1.9 26.4 L11.3 31.8" stroke="#86c59b" stroke-width="1.7"/><path d="M58.1 26.4 L48.7 31.8" stroke="#86c59b" stroke-width="1.7"/></svg>
<div class="sub" style="left:13px;top:325px"></div>
<div class="t" style="left:28.799999999999955px;top:334.6px;font-size:20px;color:#86a89c">Elegir jugador</div>
<svg class="abs" style="left:176.5px;top:342px" width="11" height="8" viewBox="0 0 11 8"><path d="M0.3 0.5 H10.7 L5.5 7.5Z" fill="#fff"/></svg>
<div class="abs" style="left:100.5px;top:380px;width:5.5px;height:1.3px;background:#7fb08c"></div>
<svg class="abs" style="left:73.5px;top:411.5px" width="59" height="51.5" viewBox="0 0 60 50" preserveAspectRatio="none"><path d="M22 1.2 H38 L51 7.2 Q53 8.5 54 10.5 L59.2 25.7 L48.5 32 L46.5 28 L46 50 H14 L13.5 28 L11.5 32 L0.8 25.7 L6 10.5 Q7 8.5 9 7.2Z" fill="url(#sg)" stroke="#1d4a30" stroke-width="1.1" stroke-linejoin="round"/>
<path d="M22.5 2.6 H37.5" stroke="#86c59b" stroke-width="1.5"/>
<path d="M1.9 26.4 L11.3 31.8" stroke="#86c59b" stroke-width="1.7"/><path d="M58.1 26.4 L48.7 31.8" stroke="#86c59b" stroke-width="1.7"/></svg>
<div class="sub" style="left:13px;top:461px"></div>
<div class="t" style="left:28.799999999999955px;top:470.6px;font-size:20px;color:#86a89c">Elegir jugador</div>
<svg class="abs" style="left:176.5px;top:478px" width="11" height="8" viewBox="0 0 11 8"><path d="M0.3 0.5 H10.7 L5.5 7.5Z" fill="#fff"/></svg>
<div class="abs" style="left:100.5px;top:516px;width:5.5px;height:1.3px;background:#7fb08c"></div>
<svg class="abs" style="left:73.5px;top:547.5px" width="59" height="51.5" viewBox="0 0 60 50" preserveAspectRatio="none"><path d="M22 1.2 H38 L51 7.2 Q53 8.5 54 10.5 L59.2 25.7 L48.5 32 L46.5 28 L46 50 H14 L13.5 28 L11.5 32 L0.8 25.7 L6 10.5 Q7 8.5 9 7.2Z" fill="url(#sg)" stroke="#1d4a30" stroke-width="1.1" stroke-linejoin="round"/>
<path d="M22.5 2.6 H37.5" stroke="#86c59b" stroke-width="1.5"/>
<path d="M1.9 26.4 L11.3 31.8" stroke="#86c59b" stroke-width="1.7"/><path d="M58.1 26.4 L48.7 31.8" stroke="#86c59b" stroke-width="1.7"/></svg>
<div class="sub" style="left:13px;top:597px"></div>
<div class="t" style="left:28.799999999999955px;top:606.6px;font-size:20px;color:#86a89c">Elegir jugador</div>
<svg class="abs" style="left:176.5px;top:614px" width="11" height="8" viewBox="0 0 11 8"><path d="M0.3 0.5 H10.7 L5.5 7.5Z" fill="#fff"/></svg>
<div class="abs" style="left:100.5px;top:652px;width:5.5px;height:1.3px;background:#7fb08c"></div>
<svg class="abs" style="left:73.5px;top:683.5px" width="59" height="51.5" viewBox="0 0 60 50" preserveAspectRatio="none"><path d="M22 1.2 H38 L51 7.2 Q53 8.5 54 10.5 L59.2 25.7 L48.5 32 L46.5 28 L46 50 H14 L13.5 28 L11.5 32 L0.8 25.7 L6 10.5 Q7 8.5 9 7.2Z" fill="url(#sg)" stroke="#1d4a30" stroke-width="1.1" stroke-linejoin="round"/>
<path d="M22.5 2.6 H37.5" stroke="#86c59b" stroke-width="1.5"/>
<path d="M1.9 26.4 L11.3 31.8" stroke="#86c59b" stroke-width="1.7"/><path d="M58.1 26.4 L48.7 31.8" stroke="#86c59b" stroke-width="1.7"/></svg>
<div class="sub" style="left:13px;top:733px"></div>
<div class="t" style="left:28.799999999999955px;top:742.6px;font-size:20px;color:#86a89c">Elegir jugador</div>
<svg class="abs" style="left:176.5px;top:750px" width="11" height="8" viewBox="0 0 11 8"><path d="M0.3 0.5 H10.7 L5.5 7.5Z" fill="#fff"/></svg>
<div class="abs" style="left:100.5px;top:788px;width:5.5px;height:1.3px;background:#7fb08c"></div>
<svg class="abs" style="left:73.5px;top:819.5px" width="59" height="51.5" viewBox="0 0 60 50" preserveAspectRatio="none"><path d="M22 1.2 H38 L51 7.2 Q53 8.5 54 10.5 L59.2 25.7 L48.5 32 L46.5 28 L46 50 H14 L13.5 28 L11.5 32 L0.8 25.7 L6 10.5 Q7 8.5 9 7.2Z" fill="url(#sg)" stroke="#1d4a30" stroke-width="1.1" stroke-linejoin="round"/>
<path d="M22.5 2.6 H37.5" stroke="#86c59b" stroke-width="1.5"/>
<path d="M1.9 26.4 L11.3 31.8" stroke="#86c59b" stroke-width="1.7"/><path d="M58.1 26.4 L48.7 31.8" stroke="#86c59b" stroke-width="1.7"/></svg>
<div class="sub" style="left:13px;top:869px"></div>
<div class="t" style="left:28.799999999999955px;top:878.6px;font-size:20px;color:#86a89c">Elegir jugador</div>
<svg class="abs" style="left:176.5px;top:886px" width="11" height="8" viewBox="0 0 11 8"><path d="M0.3 0.5 H10.7 L5.5 7.5Z" fill="#fff"/></svg>
<div class="abs" style="left:100.5px;top:924px;width:5.5px;height:1.3px;background:#7fb08c"></div>
<svg class="abs" style="left:73.5px;top:955.5px" width="59" height="51.5" viewBox="0 0 60 50" preserveAspectRatio="none"><path d="M22 1.2 H38 L51 7.2 Q53 8.5 54 10.5 L59.2 25.7 L48.5 32 L46.5 28 L46 50 H14 L13.5 28 L11.5 32 L0.8 25.7 L6 10.5 Q7 8.5 9 7.2Z" fill="url(#sg)" stroke="#1d4a30" stroke-width="1.1" stroke-linejoin="round"/>
<path d="M22.5 2.6 H37.5" stroke="#86c59b" stroke-width="1.5"/>
<path d="M1.9 26.4 L11.3 31.8" stroke="#86c59b" stroke-width="1.7"/><path d="M58.1 26.4 L48.7 31.8" stroke="#86c59b" stroke-width="1.7"/></svg>
<div class="sub" style="left:13px;top:1005px"></div>
<div class="t" style="left:28.799999999999955px;top:1014.6px;font-size:20px;color:#86a89c">Elegir jugador</div>
<svg class="abs" style="left:176.5px;top:1022px" width="11" height="8" viewBox="0 0 11 8"><path d="M0.3 0.5 H10.7 L5.5 7.5Z" fill="#fff"/></svg>
<div class="abs" style="left:100.5px;top:1060px;width:5.5px;height:1.3px;background:#7fb08c"></div>
<svg class="abs" style="left:73.5px;top:1091.5px" width="59" height="51.5" viewBox="0 0 60 50" preserveAspectRatio="none"><path d="M22 1.2 H38 L51 7.2 Q53 8.5 54 10.5 L59.2 25.7 L48.5 32 L46.5 28 L46 50 H14 L13.5 28 L11.5 32 L0.8 25.7 L6 10.5 Q7 8.5 9 7.2Z" fill="url(#sg)" stroke="#1d4a30" stroke-width="1.1" stroke-linejoin="round"/>
<path d="M22.5 2.6 H37.5" stroke="#86c59b" stroke-width="1.5"/>
<path d="M1.9 26.4 L11.3 31.8" stroke="#86c59b" stroke-width="1.7"/><path d="M58.1 26.4 L48.7 31.8" stroke="#86c59b" stroke-width="1.7"/></svg>
<div class="sub" style="left:13px;top:1141px"></div>
<div class="t" style="left:28.799999999999955px;top:1150.6px;font-size:20px;color:#86a89c">Elegir jugador</div>
<svg class="abs" style="left:176.5px;top:1158px" width="11" height="8" viewBox="0 0 11 8"><path d="M0.3 0.5 H10.7 L5.5 7.5Z" fill="#fff"/></svg>
<div class="abs" style="left:100.5px;top:1196px;width:5.5px;height:1.3px;background:#7fb08c"></div>
<svg class="abs" style="left:73.5px;top:1227.5px" width="59" height="51.5" viewBox="0 0 60 50" preserveAspectRatio="none"><path d="M22 1.2 H38 L51 7.2 Q53 8.5 54 10.5 L59.2 25.7 L48.5 32 L46.5 28 L46 50 H14 L13.5 28 L11.5 32 L0.8 25.7 L6 10.5 Q7 8.5 9 7.2Z" fill="url(#sg)" stroke="#1d4a30" stroke-width="1.1" stroke-linejoin="round"/>
<path d="M22.5 2.6 H37.5" stroke="#86c59b" stroke-width="1.5"/>
<path d="M1.9 26.4 L11.3 31.8" stroke="#86c59b" stroke-width="1.7"/><path d="M58.1 26.4 L48.7 31.8" stroke="#86c59b" stroke-width="1.7"/></svg>
<div class="sub" style="left:13px;top:1277px"></div>
<div class="t" style="left:28.799999999999955px;top:1286.6px;font-size:20px;color:#86a89c">Elegir jugador</div>
<svg class="abs" style="left:176.5px;top:1294px" width="11" height="8" viewBox="0 0 11 8"><path d="M0.3 0.5 H10.7 L5.5 7.5Z" fill="#fff"/></svg>
<div class="abs" style="left:100.5px;top:1332px;width:5.5px;height:1.3px;background:#7fb08c"></div>
<svg class="abs" style="left:73.5px;top:1363.5px" width="59" height="51.5" viewBox="0 0 60 50" preserveAspectRatio="none"><path d="M22 1.2 H38 L51 7.2 Q53 8.5 54 10.5 L59.2 25.7 L48.5 32 L46.5 28 L46 50 H14 L13.5 28 L11.5 32 L0.8 25.7 L6 10.5 Q7 8.5 9 7.2Z" fill="url(#sg)" stroke="#1d4a30" stroke-width="1.1" stroke-linejoin="round"/>
<path d="M22.5 2.6 H37.5" stroke="#86c59b" stroke-width="1.5"/>
<path d="M1.9 26.4 L11.3 31.8" stroke="#86c59b" stroke-width="1.7"/><path d="M58.1 26.4 L48.7 31.8" stroke="#86c59b" stroke-width="1.7"/></svg>
<div class="sub" style="left:13px;top:1413px"></div>
<div class="t" style="left:28.799999999999955px;top:1422.6px;font-size:20px;color:#86a89c">Elegir jugador</div>
<svg class="abs" style="left:176.5px;top:1430px" width="11" height="8" viewBox="0 0 11 8"><path d="M0.3 0.5 H10.7 L5.5 7.5Z" fill="#fff"/></svg>
<div class="abs" style="left:100.5px;top:1468px;width:5.5px;height:1.3px;background:#7fb08c"></div>
</div>
<div class="t hv" style="left:348.6px;top:1132.9px;font-size:19.7px;font-weight:700;letter-spacing:0.54px;color:#fff;">ANÁLISIS DE PARTIDOS RECIENTES</div>
<svg class="abs" style="left:714px;top:1132px" width="16" height="20" viewBox="0 0 16 20"><path d="M4.5 3.5 L11 10 L4.5 16.5" fill="none" stroke="#fff" stroke-width="2.6" stroke-linecap="round" stroke-linejoin="round"/></svg>
<div class="t hv" style="left:348.6px;top:1173.5px;font-size:19.8px;font-weight:700;letter-spacing:0.54px;color:#8dc88c;">PUNTOS POSITIVOS</div>
<div class="t hv" style="left:747.2px;top:1173.5px;font-size:19.8px;font-weight:700;letter-spacing:0.61px;color:#e9a3a3;">PUNTOS NEGATIVOS</div>
<div class="abs" style="left:726.5px;top:1199px;width:8px;height:281px;background:#4e9366;border:1px solid #3d8150;border-radius:4px"></div>
<svg class="abs" style="left:348px;top:1196px" width="40" height="40" viewBox="0 0 40 40"><path d="M8.3 17.4 L13.6 17.1 C16 16 19 12 20.9 9.6 C21.5 8.3 22 7 22.6 7.2 C24.2 7.6 24.8 8.6 24.6 9.6 C24.3 11.5 23.4 14 22.6 16.5 L29 16.5 Q30.6 16.7 30.4 18 L28.7 24.6 Q28.2 27 27.2 28.7 Q26.2 30.6 24.9 30.4 L20.3 30.1 Q17 29.5 14.5 28.1 Q11 27.2 8.4 27Z" fill="#5bc562"/></svg>
<div class="t" style="left:393.7px;top:1199.5px;font-size:21px;font-weight:400;letter-spacing:0.57px;color:#fff;">Posiciones de los goles</div>
<div class="t" style="left:393.7px;top:1230.5px;font-size:21px;font-weight:400;letter-spacing:0.64px;color:#fff;">marcados</div>
<svg class="abs" style="left:348px;top:1292.8px" width="40" height="40" viewBox="0 0 40 40"><path d="M8.3 17.4 L13.6 17.1 C16 16 19 12 20.9 9.6 C21.5 8.3 22 7 22.6 7.2 C24.2 7.6 24.8 8.6 24.6 9.6 C24.3 11.5 23.4 14 22.6 16.5 L29 16.5 Q30.6 16.7 30.4 18 L28.7 24.6 Q28.2 27 27.2 28.7 Q26.2 30.6 24.9 30.4 L20.3 30.1 Q17 29.5 14.5 28.1 Q11 27.2 8.4 27Z" fill="#5bc562"/></svg>
<div class="t" style="left:393.7px;top:1295.5px;font-size:21px;font-weight:400;letter-spacing:0.76px;color:#fff;">Disparos de larga distancia del</div>
<div class="t" style="left:393.7px;top:1326.5px;font-size:21px;font-weight:400;letter-spacing:0.45px;color:#fff;">rival</div>
<svg class="abs" style="left:348px;top:1358.8px" width="40" height="40" viewBox="0 0 40 40"><path d="M8.3 17.4 L13.6 17.1 C16 16 19 12 20.9 9.6 C21.5 8.3 22 7 22.6 7.2 C24.2 7.6 24.8 8.6 24.6 9.6 C24.3 11.5 23.4 14 22.6 16.5 L29 16.5 Q30.6 16.7 30.4 18 L28.7 24.6 Q28.2 27 27.2 28.7 Q26.2 30.6 24.9 30.4 L20.3 30.1 Q17 29.5 14.5 28.1 Q11 27.2 8.4 27Z" fill="#a9ab3e"/></svg>
<div class="t" style="left:393.7px;top:1361.5px;font-size:21px;font-weight:400;letter-spacing:0.61px;color:#fff;">Toques en el área grande rival</div>
<svg class="abs" style="left:348px;top:1400.8px" width="40" height="40" viewBox="0 0 40 40"><path d="M8.3 17.4 L13.6 17.1 C16 16 19 12 20.9 9.6 C21.5 8.3 22 7 22.6 7.2 C24.2 7.6 24.8 8.6 24.6 9.6 C24.3 11.5 23.4 14 22.6 16.5 L29 16.5 Q30.6 16.7 30.4 18 L28.7 24.6 Q28.2 27 27.2 28.7 Q26.2 30.6 24.9 30.4 L20.3 30.1 Q17 29.5 14.5 28.1 Q11 27.2 8.4 27Z" fill="#a9ab3e"/></svg>
<div class="t" style="left:393.7px;top:1403.5px;font-size:21px;font-weight:400;letter-spacing:0.72px;color:#fff;">Ratio de toques hasta gol del</div>
<div class="t" style="left:393.7px;top:1434.5px;font-size:21px;font-weight:400;letter-spacing:0.45px;color:#fff;">rival</div>
<svg class="abs" style="left:348px;top:1467.8px" width="40" height="40" viewBox="0 0 40 40"><path d="M8.3 17.4 L13.6 17.1 C16 16 19 12 20.9 9.6 C21.5 8.3 22 7 22.6 7.2 C24.2 7.6 24.8 8.6 24.6 9.6 C24.3 11.5 23.4 14 22.6 16.5 L29 16.5 Q30.6 16.7 30.4 18 L28.7 24.6 Q28.2 27 27.2 28.7 Q26.2 30.6 24.9 30.4 L20.3 30.1 Q17 29.5 14.5 28.1 Q11 27.2 8.4 27Z" fill="#a9ab3e"/></svg>
<div class="t" style="left:393.7px;top:1470.5px;font-size:21px;font-weight:400;letter-spacing:0.63px;color:#fff;">Toques del rival en el área</div>
<div class="t" style="left:393.7px;top:1501.5px;font-size:21px;font-weight:400;letter-spacing:0.62px;color:#fff;">grande</div>
<svg class="abs" style="left:348px;top:1533.8px" width="40" height="40" viewBox="0 0 40 40"><path d="M8.3 17.4 L13.6 17.1 C16 16 19 12 20.9 9.6 C21.5 8.3 22 7 22.6 7.2 C24.2 7.6 24.8 8.6 24.6 9.6 C24.3 11.5 23.4 14 22.6 16.5 L29 16.5 Q30.6 16.7 30.4 18 L28.7 24.6 Q28.2 27 27.2 28.7 Q26.2 30.6 24.9 30.4 L20.3 30.1 Q17 29.5 14.5 28.1 Q11 27.2 8.4 27Z" fill="#a9ab3e"/></svg>
<div class="t" style="left:393.7px;top:1536.5px;font-size:21px;font-weight:400;letter-spacing:0.55px;color:#fff;">Goles de disparos en el área</div>
<div class="t" style="left:399.8px;top:1260.5px;font-size:21px;font-weight:400;letter-spacing:0.75px;color:#86b893;">- Centro del área de penalti</div>
<svg class="abs" style="left:746px;top:1196px" width="40" height="40" viewBox="0 0 40 40"><path d="M8.3 17.4 L13.6 17.1 C16 16 19 12 20.9 9.6 C21.5 8.3 22 7 22.6 7.2 C24.2 7.6 24.8 8.6 24.6 9.6 C24.3 11.5 23.4 14 22.6 16.5 L29 16.5 Q30.6 16.7 30.4 18 L28.7 24.6 Q28.2 27 27.2 28.7 Q26.2 30.6 24.9 30.4 L20.3 30.1 Q17 29.5 14.5 28.1 Q11 27.2 8.4 27Z" fill="#cb4f2a" transform="translate(0,37.6) scale(1,-1)"/></svg>
<div class="t" style="left:790.9px;top:1199.5px;font-size:21px;font-weight:400;letter-spacing:0.82px;color:#fff;">Poca influencia</div>
<svg class="abs" style="left:746px;top:1238.8px" width="40" height="40" viewBox="0 0 40 40"><path d="M8.3 17.4 L13.6 17.1 C16 16 19 12 20.9 9.6 C21.5 8.3 22 7 22.6 7.2 C24.2 7.6 24.8 8.6 24.6 9.6 C24.3 11.5 23.4 14 22.6 16.5 L29 16.5 Q30.6 16.7 30.4 18 L28.7 24.6 Q28.2 27 27.2 28.7 Q26.2 30.6 24.9 30.4 L20.3 30.1 Q17 29.5 14.5 28.1 Q11 27.2 8.4 27Z" fill="#e07b2e" transform="translate(0,37.6) scale(1,-1)"/></svg>
<div class="t" style="left:790.9px;top:1241.5px;font-size:21px;font-weight:400;letter-spacing:0.88px;color:#fff;">Intentos desde el tercio final del</div>
<div class="t" style="left:790.9px;top:1272.5px;font-size:21px;font-weight:400;letter-spacing:0.4px;color:#fff;">rival</div>
<div class="t" style="left:796.8px;top:1302.5px;font-size:21px;font-weight:400;letter-spacing:0.83px;color:#86b893;">- Centro</div>
</body></html>
